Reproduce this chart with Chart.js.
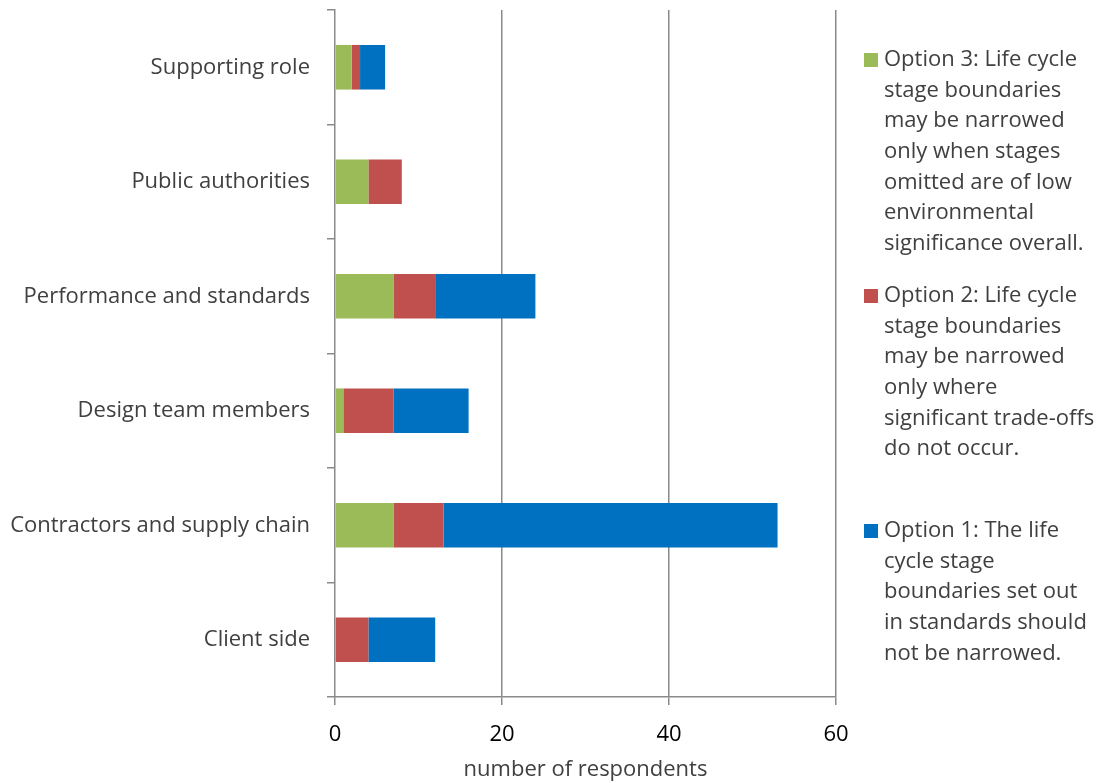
<!DOCTYPE html>
<html>
<head>
<meta charset="utf-8">
<style>
  html, body { margin: 0; padding: 0; background: #ffffff; }
  #wrap { width: 1100px; height: 783px; position: relative; }
</style>
<script src="https://cdn.jsdelivr.net/npm/chart.js@4/dist/chart.umd.min.js"></script>
</head>
<body>
<div id="wrap"><canvas id="c" width="1100" height="783"></canvas></div>
<script>
// Respondent groups, top to bottom
const categories = [
  'Supporting role',
  'Public authorities',
  'Performance and standards',
  'Design team members',
  'Contractors and supply chain',
  'Client side'
];

// Number of respondents per option
const option3 = [2, 4, 7, 1, 7, 0];
const option2 = [1, 4, 5, 6, 6, 4];
const option1 = [3, 0, 12, 9, 40, 8];

const xTicks = [0, 20, 40, 60];
const axisTitle = 'number of respondents';

// Legend wording, broken into lines
const option3Lines = ['Option 3: Life cycle', 'stage boundaries', 'may be narrowed', 'only when stages', 'omitted are of low', 'environmental', 'significance overall.'];
const option2Lines = ['Option 2: Life cycle', 'stage boundaries', 'may be narrowed', 'only where', 'significant trade-offs', 'do not occur.'];
const option1Lines = ['Option 1: The life', 'cycle stage', 'boundaries set out', 'in standards should', 'not be narrowed.'];

const FONT = "'Open Sans', 'Noto Sans', sans-serif";
const AXIS_GREY = '#8a8a8a';
const TEXT_SIZE = 22;

// Wrapped legend drawn at the right of the plot
const sideLegend = {
  id: 'sideLegend',
  afterDraw(chart, args, opts) {
    const ctx = chart.ctx;
    ctx.save();
    ctx.font = opts.fontSize + 'px ' + FONT;
    ctx.textBaseline = 'middle';
    ctx.textAlign = 'left';
    chart.data.datasets.forEach((ds, i) => {
      const y0 = opts.blockTops[i];
      ctx.fillStyle = ds.backgroundColor;
      ctx.fillRect(opts.boxX, y0 - opts.box / 2, opts.box, opts.box);
      ctx.fillStyle = '#404040';
      ds.legendLines.forEach((line, j) => {
        ctx.fillText(line, opts.textX, y0 + j * opts.lineHeight);
      });
    });
    ctx.restore();
  }
};

new Chart(document.getElementById('c'), {
  type: 'bar',
  data: {
    labels: categories,
    datasets: [
      { label: option3Lines.join(' '), legendLines: option3Lines, data: option3, backgroundColor: '#9BBB59' },
      { label: option2Lines.join(' '), legendLines: option2Lines, data: option2, backgroundColor: '#C0504D' },
      { label: option1Lines.join(' '), legendLines: option1Lines, data: option1, backgroundColor: '#0070C0' }
    ]
  },
  options: {
    indexAxis: 'y',
    responsive: false,
    animation: false,
    layout: { padding: { left: 0, right: 264, top: 10, bottom: 0 } },
    datasets: { bar: { categoryPercentage: 1, barPercentage: 0.39, borderWidth: 0 } },
    plugins: {
      legend: { display: false },
      tooltip: { enabled: false },
      sideLegend: {
        fontSize: TEXT_SIZE,
        box: 14,
        boxX: 864,
        textX: 884,
        lineHeight: 30.6,
        blockTops: [60, 296, 531]
      }
    },
    scales: {
      x: {
        stacked: true,
        min: 0,
        max: 60,
        afterBuildTicks(scale) { scale.ticks = xTicks.map(v => ({ value: v })); },
        afterFit(scale) { scale.height = 86; },
        grid: {
          color: (c) => (c.tick && c.tick.value === 0 ? 'rgba(0,0,0,0)' : AXIS_GREY),
          tickColor: AXIS_GREY,
          lineWidth: 1.5,
          drawTicks: true,
          tickLength: 8
        },
        border: { display: true, color: AXIS_GREY, width: 1.5 },
        ticks: { color: '#000000', font: { family: FONT, size: TEXT_SIZE }, padding: 17 },
        title: {
          display: true,
          text: axisTitle,
          color: '#404040',
          font: { family: FONT, size: TEXT_SIZE },
          padding: { top: 5, bottom: 0 }
        }
      },
      y: {
        stacked: true,
        afterFit(scale) {
          scale.width = 335;
          // category labels sit mid-band, so no extra room above/below the plot
          scale.paddingTop = 0;
          scale.paddingBottom = 0;
        },
        grid: {
          offset: true,
          drawOnChartArea: false,
          drawTicks: true,
          tickLength: 8,
          tickColor: AXIS_GREY,
          lineWidth: 1.5
        },
        border: { display: true, color: AXIS_GREY, width: 1.5 },
        ticks: { color: '#404040', font: { family: FONT, size: TEXT_SIZE }, padding: 17 }
      }
    }
  },
  plugins: [sideLegend]
});
</script>
</body>
</html>
